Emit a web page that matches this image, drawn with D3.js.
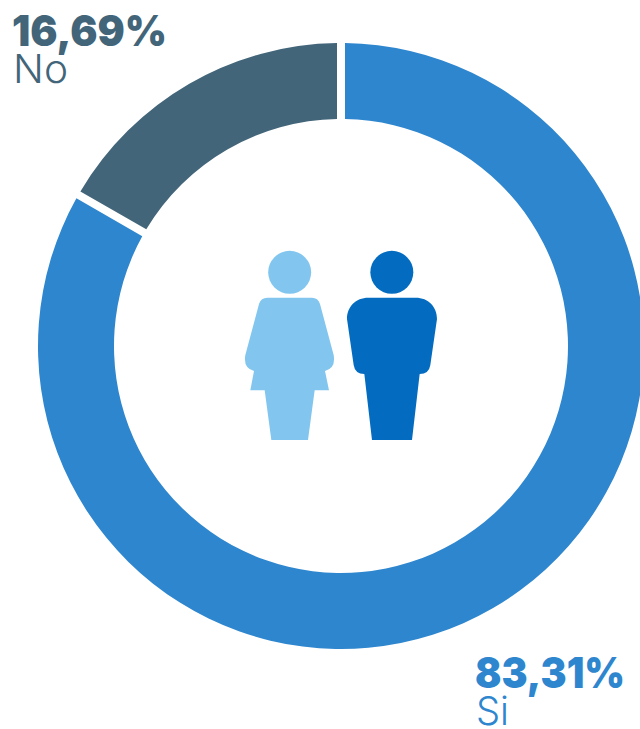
<!DOCTYPE html>
<html><head><meta charset="utf-8">
<script src="https://cdn.jsdelivr.net/npm/d3@7"></script>
<style>html,body{margin:0;padding:0;background:#fff}svg{display:block}</style>
</head><body><svg id="c" width="640" height="729"></svg>
<script>
const categories = ["Si", "No"];
const values = [83.31, 16.69];
const valueLabels = ["83,31%", "16,69%"];
const colors = ["#2E86CE", "#426579"];

const svg = d3.select("#c");
const cx = 341, cy = 346, R = 303, r = 227, gap = 8;
const pie = d3.pie().sort(null).startAngle(0).endAngle(2 * Math.PI);
const arc = d3.arc().innerRadius(r).outerRadius(R).padRadius(R).padAngle(gap / R);
svg.append("g").attr("transform", `translate(${cx},${cy})`)
  .selectAll("path").data(pie(values)).join("path")
  .attr("d", arc).attr("fill", (d, i) => colors[i]);

const labelPos = [{x: 475, x2: 476, y1: 688, y2: 725, w: 150, w2: 33}, {x: 12, x2: 13, y1: 46, y2: 83, w: 155, w2: 55}];
const font = "Inter, 'Noto Sans', sans-serif";
categories.forEach((c, i) => {
  const p = labelPos[i];
  svg.append("text").attr("x", p.x).attr("y", p.y1).attr("fill", colors[i])
    .attr("font-family", font).attr("font-weight", 900).attr("font-size", 43)
    .attr("textLength", p.w).attr("lengthAdjust", "spacingAndGlyphs").text(valueLabels[i]);
  svg.append("text").attr("x", p.x2).attr("y", p.y2).attr("fill", colors[i])
    .attr("font-family", font).attr("font-weight", 300).attr("font-size", 39)
    .attr("textLength", p.w2).attr("lengthAdjust", "spacingAndGlyphs").text(c);
});

const icons = svg.append("g").attr("transform", "translate(230,240) scale(0.33333)");
icons.append("circle").attr("cx", 179).attr("cy", 97).attr("r", 64.5).attr("fill", "#82C6F0");
icons.append("path").attr("fill", "#82C6F0").attr("d",
  "M112,173 L246,173 Q264,173 270,192 L311,345 Q318,385 285,393 L297,451 L254,451 L234,600 L124,600 L104,451 L61,451 L72,393 Q39,385 46,345 L87,192 Q93,173 112,173 Z");
icons.append("circle").attr("cx", 485.5).attr("cy", 97).attr("r", 64.5).attr("fill", "#036CC0");
icons.append("path").attr("fill", "#036CC0").attr("d",
  "M415,173 L557,173 C595,173 621,200 621,237 L601,375 Q597,402 569,402 L546,600 L426,600 L403,402 Q375,402 371,375 L351,237 C351,200 377,173 415,173 Z");
</script></body></html>
